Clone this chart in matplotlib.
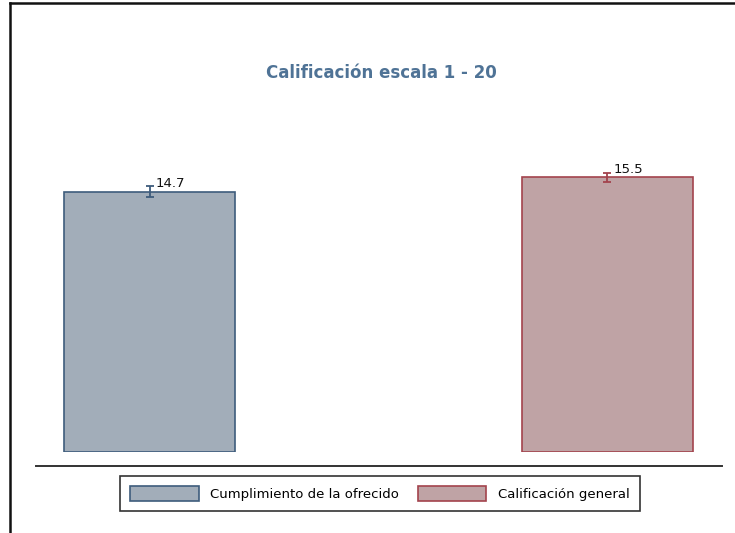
import matplotlib
matplotlib.use("Agg")
import matplotlib.pyplot as plt
from matplotlib.lines import Line2D
from matplotlib.patches import Patch

categories = ["Cumplimiento de la ofrecido", "Calificación general"]
values = [14.7, 15.5]
errors = [0.3, 0.25]
labels = ["14.7", "15.5"]
title = "Calificación escala 1 - 20"

fill_colors = ["#a2adb9", "#bfa3a5"]
edge_colors = ["#3e5c7c", "#a3434d"]

plt.rcParams['font.family'] = ['DejaVu Sans']

W, H = 735, 533
fig = plt.figure(figsize=(W / 100, H / 100), dpi=100)

def fx(px):
    return px / W

def fy(py):
    return 1 - py / H

# axes: x from 36 to 722 px, y bottom 452 px, top ~97.6 px (value 20)
ax_left, ax_right = 36, 722
ax_bottom, ax_top = 452, 452 - 20 * 17.72
ax = fig.add_axes([fx(ax_left), fy(ax_bottom), (ax_right - ax_left) / W, (ax_bottom - ax_top) / H])
ax.set_ylim(0, 20)
c0, c1 = 149.5, 607.0
unit = c1 - c0
ax.set_xlim(-(c0 - ax_left) / unit, 1 + (ax_right - c1) / unit)
bar_w = 171 / unit
x = list(range(len(values)))
ax.bar(x, values, width=bar_w, color=fill_colors, edgecolor=edge_colors, linewidth=1.2)
for i in x:
    ax.errorbar(i, values[i], yerr=errors[i], fmt='none', ecolor=edge_colors[i],
                elinewidth=1.3, capsize=3, capthick=1.3)
    ax.annotate(labels[i], (i, values[i] + errors[i]), xytext=(4.5, -2.5), textcoords='offset points',
                ha='left', va='bottom', fontsize=9.5, color='#111111')
ax.axis('off')

# title
fig.text(fx(381), fy(73), title, ha='center', va='center', fontsize=12, fontweight='bold',
         color='#4f7396')

# horizontal base line
fig.add_artist(Line2D([fx(36), fx(722)], [fy(466), fy(466)], color='#333333', lw=1.4))
# frame lines (left and top)
fig.add_artist(Line2D([fx(10), fx(10)], [fy(3), 0], color='#111111', lw=1.8))
fig.add_artist(Line2D([fx(10), 1], [fy(3), fy(3)], color='#111111', lw=1.8))

handles = [Patch(facecolor=fill_colors[i], edgecolor=edge_colors[i], linewidth=1.2)
           for i in range(len(categories))]
leg = fig.legend(handles, categories, ncol=2, loc='center', bbox_to_anchor=(fx(380), fy(493.5)),
                 fontsize=9.5, frameon=True, fancybox=False, edgecolor='black',
                 handlelength=5.2, handleheight=1.3, handletextpad=0.9, columnspacing=1.4,
                 borderpad=0.75, borderaxespad=0)
leg.get_frame().set_linewidth(1.2)

fig.savefig("out.png", dpi=100, facecolor='white')
